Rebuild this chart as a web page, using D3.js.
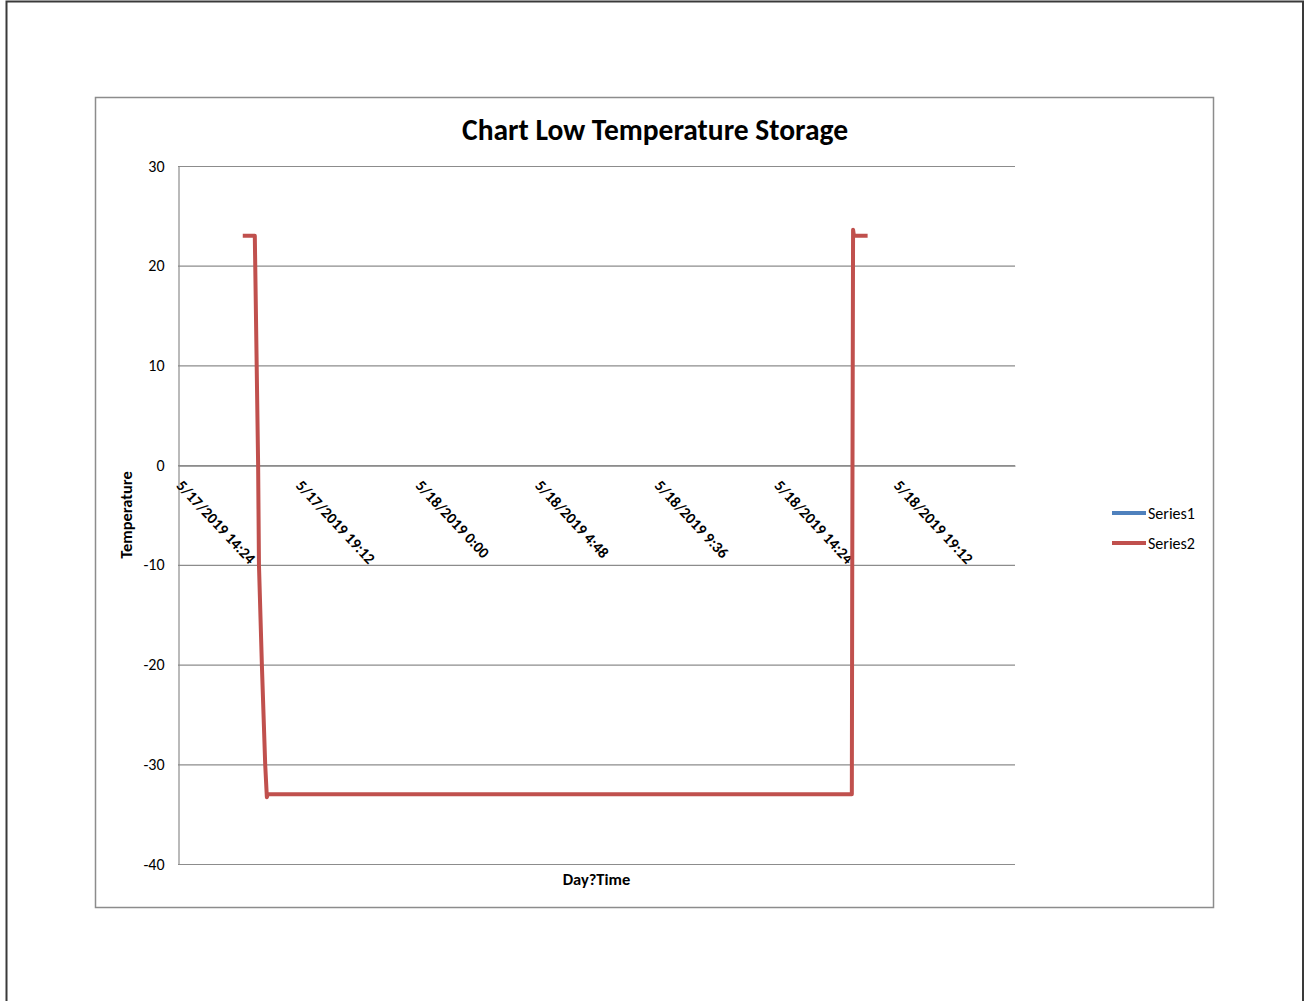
<!DOCTYPE html>
<html>
<head>
<meta charset="utf-8">
<script src="https://cdn.jsdelivr.net/npm/d3@7"></script>
<style>
  html, body { margin: 0; padding: 0; background: #fff; }
  svg { display: block; font-family: Calibri, Carlito, "Liberation Sans", Arial, sans-serif; }
</style>
</head>
<body>
<svg id="chart" width="1305" height="1001"></svg>
<script>
// Logger readings: timestamp and temperature (°C)
const readingTimes = [
  "5/17/2019 17:00", "5/17/2019 17:29", "5/17/2019 17:37", "5/17/2019 17:39",
  "5/17/2019 17:46", "5/17/2019 17:54", "5/17/2019 17:58", "5/17/2019 18:00",
  "5/18/2019 17:27", "5/18/2019 17:28", "5/18/2019 17:30", "5/18/2019 17:32",
  "5/18/2019 18:05"
];
const series1 = [];   // no readings recorded for Series1
const series2 = [
  23, 23, 0, -10,
  -20, -30, -33.3, -33,
  -33, -10, 23.6, 23,
  23
];
const seriesNames = ["Series1", "Series2"];
const seriesColors = ["#4F81BD", "#C0504D"];

const xTickLabels = [
  "5/17/2019 14:24", "5/17/2019 19:12", "5/18/2019 0:00", "5/18/2019 4:48",
  "5/18/2019 9:36", "5/18/2019 14:24", "5/18/2019 19:12"
];
const xDomainLabels = ["5/17/2019 14:24", "5/19/2019 0:00"];
const yTicks = [30, 20, 10, 0, -10, -20, -30, -40];

const parse = d3.timeParse("%m/%d/%Y %H:%M");
const fmt = d3.timeFormat("%-m/%-d/%Y %-H:%M");
const FONT = "Calibri, Carlito, 'Liberation Sans', Arial, sans-serif";

const svg = d3.select("#chart");

// outer page frame and chart frame
svg.append("rect").attr("x", 6.5).attr("y", 1.5).attr("width", 1296.5).attr("height", 1010)
  .attr("fill", "none").attr("stroke", "#3a3a3a").attr("stroke-width", 2);
svg.append("rect").attr("x", 95.5).attr("y", 97.5).attr("width", 1118).attr("height", 810)
  .attr("fill", "#fff").attr("stroke", "#8c8c8c").attr("stroke-width", 1.5);

const plot = { left: 178, right: 1015, top: 166, bottom: 864 };

const x = d3.scaleTime()
  .domain(xDomainLabels.map(parse))
  .range([plot.left, plot.right]);
const y = d3.scaleLinear()
  .domain([-40, 30])
  .range([plot.bottom, plot.top]);

// horizontal gridlines
svg.append("g").selectAll("line").data(yTicks).join("line")
  .attr("x1", plot.left).attr("x2", plot.right)
  .attr("y1", d => y(d) + 0.5).attr("y2", d => y(d) + 0.5)
  .attr("stroke", "#8c8c8c").attr("stroke-width", 1.2);

// value axis
const yAxis = svg.append("g").attr("transform", `translate(${plot.left + 0.5},0)`)
  .call(d3.axisLeft(y).tickValues(yTicks).tickSize(0).tickPadding(14).tickFormat(d => String(d)));
yAxis.select(".domain").attr("stroke", "#8c8c8c").attr("stroke-width", 1.2);
yAxis.selectAll("text").attr("font-size", 16).attr("fill", "#000").attr("font-family", FONT);

// category (time) axis crossing at 0
const xAxis = svg.append("g").attr("transform", `translate(0,${y(0) + 0.5})`)
  .call(d3.axisBottom(x).tickValues(xTickLabels.map(parse)).tickSize(0).tickFormat(fmt));
xAxis.select(".domain").attr("stroke", "#8c8c8c").attr("stroke-width", 1.2);
xAxis.selectAll("text")
  .attr("font-size", 15.5).attr("font-weight", "bold").attr("fill", "#000")
  .attr("font-family", FONT)
  .attr("text-anchor", "start")
  .attr("y", 0).attr("dy", "0.35em")
  .attr("transform", "translate(1,17) rotate(47)");

// series lines
const line = d3.line()
  .x(d => x(d.t))
  .y(d => y(d.v));
const allSeries = [series1, series2].map((vals, i) => ({
  name: seriesNames[i],
  color: seriesColors[i],
  points: vals.map((v, j) => ({ t: parse(readingTimes[j]), v }))
}));
svg.append("g").selectAll("path").data(allSeries).join("path")
  .attr("d", d => line(d.points))
  .attr("fill", "none")
  .attr("stroke", d => d.color)
  .attr("stroke-width", 4)
  .attr("stroke-linejoin", "round");

// title and axis titles
svg.append("text").attr("x", 655).attr("y", 140).attr("text-anchor", "middle")
  .attr("font-size", 29.5).attr("font-weight", "bold").attr("fill", "#000")
  .text("Chart Low Temperature Storage");
svg.append("text").attr("transform", `translate(132,${(plot.top + plot.bottom) / 2}) rotate(-90)`)
  .attr("text-anchor", "middle").attr("font-size", 16.5).attr("font-weight", "bold")
  .text("Temperature");
svg.append("text").attr("x", (plot.left + plot.right) / 2).attr("y", 885)
  .attr("text-anchor", "middle").attr("font-size", 16.5).attr("font-weight", "bold")
  .text("Day?Time");

// legend
const legend = svg.append("g").selectAll("g").data(allSeries).join("g")
  .attr("transform", (d, i) => `translate(1112,${513 + i * 30})`);
legend.append("line").attr("x1", 0).attr("x2", 34)
  .attr("stroke", d => d.color).attr("stroke-width", 4);
legend.append("text").attr("x", 36).attr("dy", "0.35em")
  .attr("font-size", 16).text(d => d.name);
</script>
</body>
</html>
